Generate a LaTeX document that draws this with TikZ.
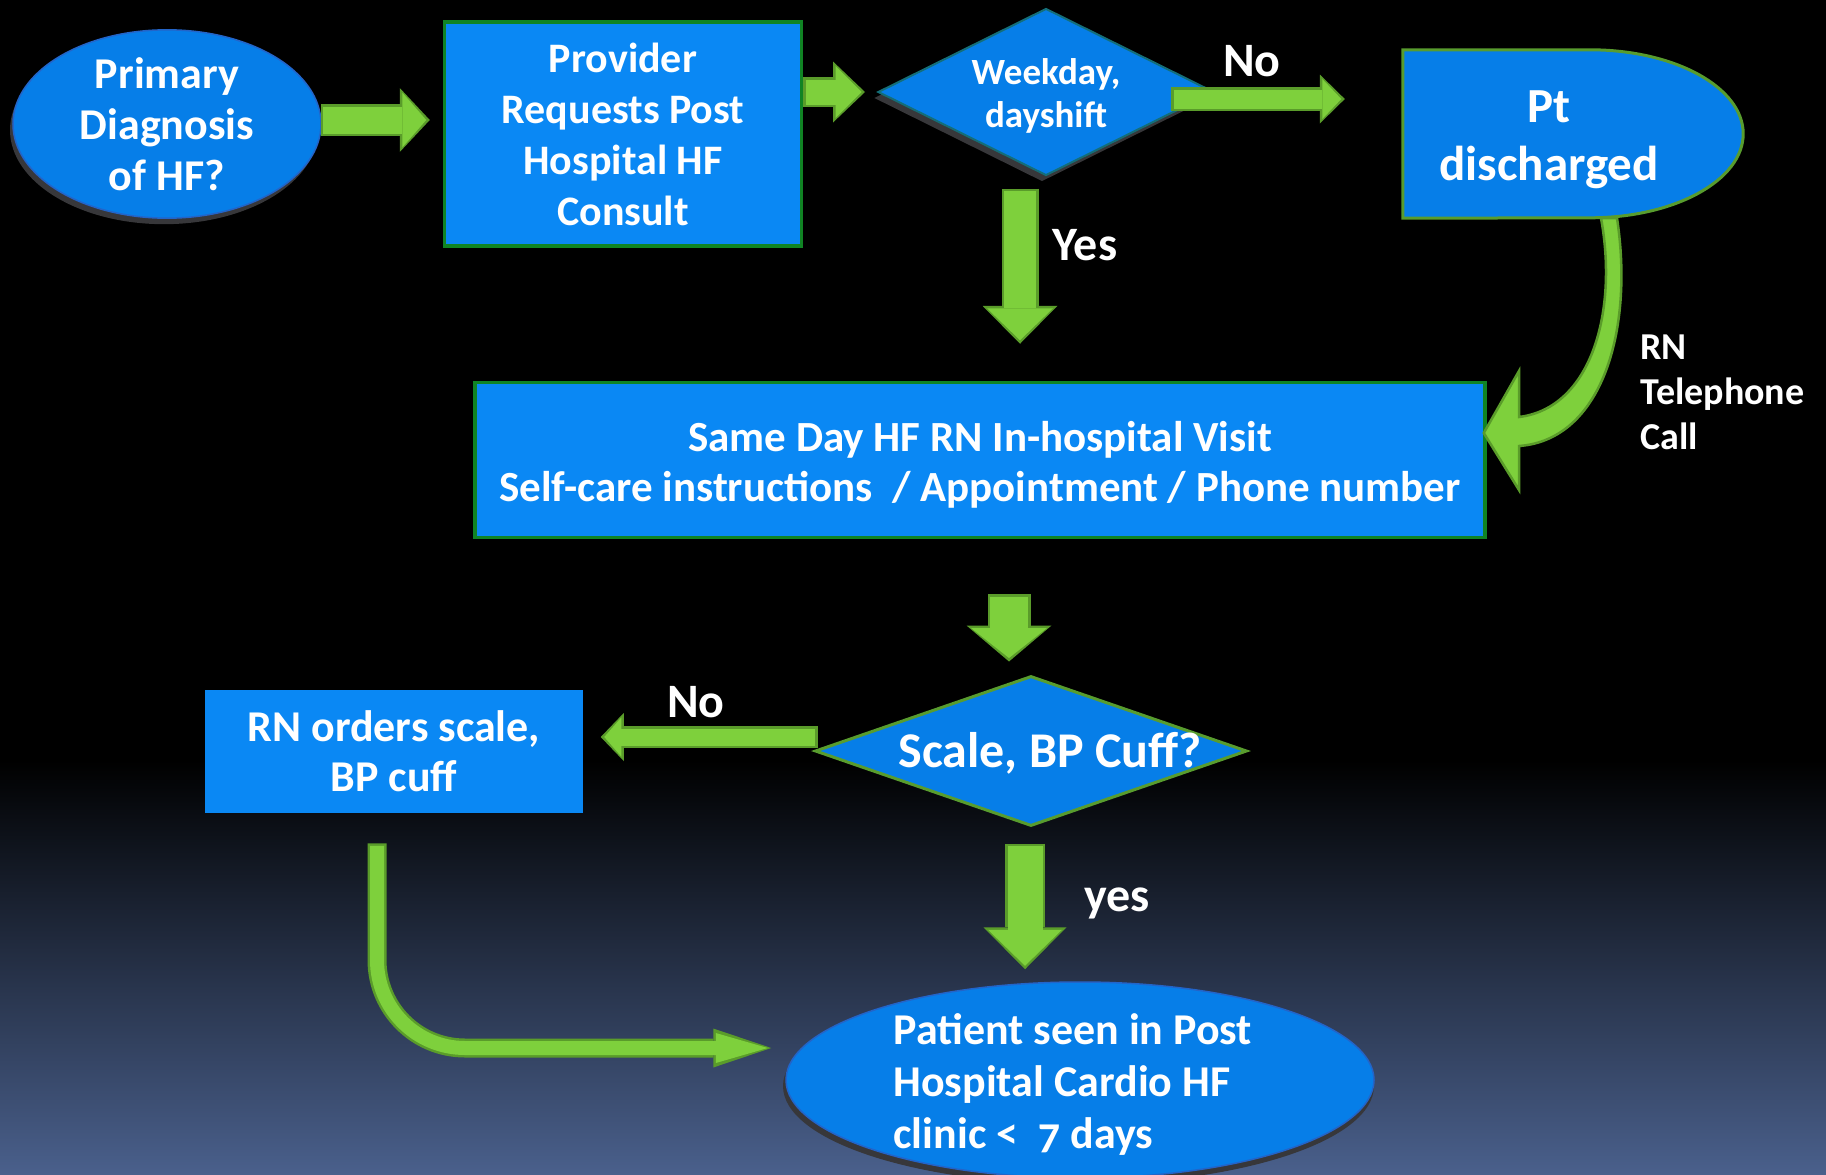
\documentclass[tikz,border=0pt]{standalone}
\usepackage{fontspec}
\setmainfont{Carlito}
\usetikzlibrary{shapes.geometric,shadows,calc,arrows.meta}

\definecolor{boxblue}{RGB}{10,136,244}
\definecolor{ovalblue}{RGB}{6,126,232}
\definecolor{ovaledge}{RGB}{35,100,200}
\definecolor{boxedge}{RGB}{16,132,36}
\definecolor{leafedge}{RGB}{88,156,46}
\definecolor{diaedge}{RGB}{20,110,120}
\definecolor{arrowfill}{RGB}{126,208,60}
\definecolor{arrowedge}{RGB}{90,156,42}
\definecolor{bgblue}{RGB}{74,96,140}
\definecolor{shadowgray}{RGB}{55,55,58}

% fat green arrow: body width, head width, head length, path
\newcommand{\blockarrow}[4]{%
  \pgfmathsetmacro{\bodyin}{#1-5}%
  \pgfmathsetmacro{\headin}{#2-9}%
  \pgfmathsetmacro{\lenin}{#3-6}%
  \draw[arrowedge, line width=#1pt, -{Triangle[width=#2pt, length=#3pt, line width=0pt]}] #4;
  \draw[arrowfill, line width=\bodyin pt, shorten >=3.5pt, shorten <=2.5pt, -{Triangle[width=\headin pt, length=\lenin pt, line width=0pt]}] #4;
}

\tikzset{
  every node/.style={text=white, font=\bfseries},
  oval/.style={ellipse, fill=ovalblue, draw=ovaledge, line width=1.5pt, inner sep=0pt, align=center,
    drop shadow={shadow xshift=-3pt, shadow yshift=-6pt, fill=shadowgray, opacity=1}},
  box/.style={rectangle, fill=boxblue, draw=boxedge, line width=3.5pt, inner sep=0pt, align=center},
  decision/.style={diamond, aspect=2, fill=ovalblue, inner sep=0pt},
  answer/.style={font=\bfseries\fontsize{48}{56}\selectfont},
}

\begin{document}
\begin{tikzpicture}[x=1pt, y=-1pt]
\useasboundingbox (0,0) rectangle (1826,1175);
\fill[black] (0,0) rectangle (1826,1175);
\shade[top color=black, bottom color=bgblue] (0,760) rectangle (1826,1175);

% top row
\node[oval, minimum width=308pt, minimum height=180pt, font=\bfseries\fontsize{44}{51}\selectfont] (diag) at (167,124) {Primary\\Diagnosis\\of HF?};
\node[box, minimum width=357pt, minimum height=224pt, font=\bfseries\fontsize{42}{51}\selectfont] (prov) at (623,134) {Provider\\Requests Post\\Hospital HF\\Consult};
\node[decision, minimum width=336pt, minimum height=167pt, draw=diaedge, line width=2pt,
  drop shadow={shadow xshift=-4pt, shadow yshift=-6pt, fill=shadowgray, opacity=1}] (week) at (1046,92) {};
\node[font=\bfseries\fontsize{37}{43}\selectfont, align=center] (weektext) at (1046,96) {Weekday,\\dayshift};
\node[minimum width=340pt, minimum height=168pt, inner sep=0pt] (pt) at (1573,134) {};
\draw[fill=ovalblue, draw=leafedge, line width=3pt] (pt.south west) -- (pt.north west) -- ($(pt.north east)+(-153,0)$) arc[start angle=-90, end angle=90, x radius=153, y radius=84] -- cycle;
\node[font=\bfseries\fontsize{49}{58}\selectfont, align=center] (pttext) at (1549,140) {Pt\\discharged};

% middle
\node[box, minimum width=1010pt, minimum height=155pt] (visit) at (980,460) {};
\node[font=\bfseries\fontsize{43}{50}\selectfont, align=center] (visittext) at (980,465) {Same Day HF RN In-hospital Visit\\Self-care instructions~ / Appointment / Phone number};
\node[decision, minimum width=432pt, minimum height=150pt, draw=leafedge, line width=3pt] (scale) at (1031,751) {};
\node[font=\bfseries\fontsize{50}{58}\selectfont] (scaletext) at (1050,753) {Scale, BP Cuff?};
\node[box, draw=none, minimum width=378pt, minimum height=123pt, font=\bfseries\fontsize{44}{50}\selectfont] (rnorder) at (394,751) {RN orders scale,\\BP cuff};
\node[oval, minimum width=588pt, minimum height=196pt,
  drop shadow={shadow xshift=0pt, shadow yshift=-6pt, fill=shadowgray, opacity=1}] (clinic) at (1080,1080) {};
\node[align=left, anchor=west, font=\bfseries\fontsize{44}{52}\selectfont] (clinictext) at (890,1084) {Patient seen in Post\\Hospital Cardio HF\\clinic <~~{\addfontfeatures{Numbers=OldStyle}7} days};

% labels
\node[answer] (notop) at (1252,61) {No};
\node[answer] (yestop) at (1085,245) {Yes};
\node[answer] (nomid) at (696,702) {No};
\node[answer] (yesbot) at (1117,903) {yes};
\node[font=\bfseries\fontsize{38}{45}\selectfont, align=left, anchor=west] (phone) at (1637,392) {RN\\Telephone\\Call};

% arrows
\blockarrow{32}{64}{30}{($(diag.east)+(-1,-4)$) -- ($(prov.west)+(-13,-14)$)}
\blockarrow{30}{61}{32}{($(prov.east)+(0,-42)$) -- ($(week.west)+(-12,0)$)}
\blockarrow{24}{49}{25}{($(week.east)+(-44,7)$) -- ($(pt.west)+(-58,-35)$)}
\blockarrow{37}{75}{38}{($(week.south)+(-26,12)$) -- ($(visit.north)+(40,-37)$)}
\blockarrow{43}{85}{36}{($(visit.south)+(29,55)$) -- ($(scale.north)+(-22,-13)$)}
\blockarrow{22}{48}{23}{($(scale.west)+(4,-14)$) -- ($(rnorder.east)+(16,-14)$)}
\blockarrow{40}{83}{42}{($(scale.south)+(-6,16)$) -- ($(clinic.north)+(-55,-12)$)}
\blockarrow{19}{39}{58}{($(rnorder.south)+(-17,29)$) [rounded corners=88pt] |- ($(clinic.west)+(-14,-32)$)}

\coordinate (callstart) at ($(pt.south)+(36,0)$);
\coordinate (calltip) at ($(visit.east)+(-3,-27)$);
\draw[fill=arrowfill, draw=arrowedge, line width=2.5pt]
  ($(callstart)+(-8,0)$) .. controls (1618,310) and (1592,408) .. (1519,417)
  -- (1519,371) -- (calltip) -- (1519,490) -- (1519,446)
  .. controls (1602,440) and (1634,330) .. ($(callstart)+(8,0)$) -- cycle;
\end{tikzpicture}
\end{document}
